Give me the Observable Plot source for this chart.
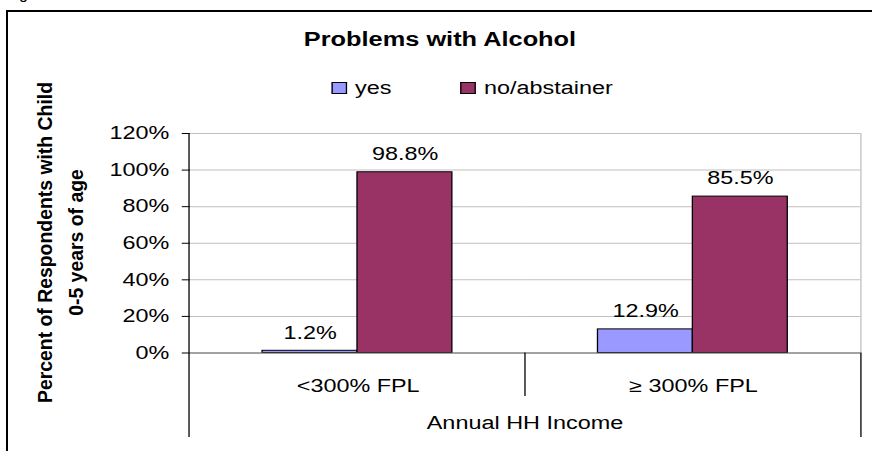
<!DOCTYPE html>
<html>
<head>
<meta charset="utf-8">
<script src="https://cdn.jsdelivr.net/npm/d3@7"></script>
<script src="https://cdn.jsdelivr.net/npm/@observablehq/plot@0.6"></script>
<style>
  body { margin: 0; background: #fff; font-family: "Liberation Sans", Arial, sans-serif; }
  #wrap { position: relative; width: 872px; height: 451px; overflow: hidden; background: #fff; }
  #frame { position: absolute; left: 6px; top: 10px; width: 900px; height: 500px; border: 2px solid #000; box-sizing: border-box; }
  #fig { position: absolute; left: 19px; top: -14px; font-size: 16px; line-height: 16px; color: #000; }
  #stretch { position: absolute; left: 0; top: 0; height: 451px; transform-origin: 0 0; }
  #title { position: absolute; width: 400px; text-align: center; font-weight: bold; font-size: 19.5px; line-height: 19.5px; color: #000; white-space: nowrap; }
  .sw { position: absolute; width: 12px; height: 12px; border: 1px solid #000; box-sizing: border-box; }
  .lt { position: absolute; font-size: 18px; line-height: 18px; color: #000; white-space: nowrap; }
  #xlabel { position: absolute; width: 400px; text-align: center; font-size: 18px; line-height: 18px; color: #000; white-space: nowrap; }
  #plot { position: absolute; left: 0; top: 0; }
  #ytitle { position: absolute; left: 0; top: 0; pointer-events: none; }
</style>
</head>
<body>
<div id="wrap">
  <div id="frame"></div>
  <div id="fig">g</div>
  <div id="stretch">
    <div id="plot"></div>
    <div id="title"></div>
    <div id="legend"></div>
    <div id="xlabel"></div>
  </div>
  <svg id="ytitle" width="872" height="451"></svg>
</div>
<script>
// ---- data ----
const chartTitle = "Problems with Alcohol";
const categories = ["<300% FPL", "\u2265 300% FPL"];
const series = ["yes", "no/abstainer"];
const yesValues = [1.2, 12.9];
const noValues = [98.8, 85.5];
const yTicks = [0, 20, 40, 60, 80, 100, 120];
const xTitle = "Annual HH Income";
const yTitleLines = ["Percent of Respondents with Child", "0-5 years of age"];

// ---- style ----
const seriesColors = ["#9999FF", "#993366"];
const S = 1.3;            // horizontal stretch of the original picture
const W = 872 / S;

const rows = categories.flatMap((c, i) => [
  {category: c, series: series[0], value: yesValues[i]},
  {category: c, series: series[1], value: noValues[i]}
]);

const chart = Plot.plot({
  width: W,
  height: 451,
  marginLeft: 145.4,
  marginRight: 8.5,
  marginTop: 133,
  marginBottom: 98.5,
  style: {fontFamily: "'Liberation Sans', Arial, sans-serif", fontSize: "18px", background: "transparent", color: "#000", overflow: "visible"},
  facet: {data: rows, x: "category"},
  fx: {domain: categories, padding: 0, axis: "bottom", tickSize: 0, tickPadding: 26, label: null},
  x: {domain: series, paddingInner: 0, paddingOuter: 0.75, axis: null},
  y: {domain: [0, 120], ticks: yTicks, tickFormat: d => d + "%", tickSize: 6.2, tickPadding: 10, label: null},
  color: {domain: series, range: seriesColors},
  marks: [
    Plot.ruleY(yTicks, {stroke: "#c0c0c0", strokeWidth: 1}),
    Plot.barY(rows, {x: "series", y: "value", fill: "series", stroke: "#000", strokeWidth: 1}),
    Plot.ruleY([0], {stroke: "#666", strokeWidth: 1}),
    Plot.text(rows, {x: "series", y: "value", text: d => d.value.toFixed(1) + "%", dy: -18, fontSize: 18, fill: "#000"})
  ]
});

const stretch = document.getElementById("stretch");
stretch.style.width = W + "px";
stretch.style.transform = `scaleX(${S})`;
document.getElementById("plot").appendChild(chart);

// category dividers, from the library's own scales
const svgEl = chart.tagName.toLowerCase() === "svg" ? chart : chart.querySelector("svg");
const fxS = chart.scale("fx"), yS = chart.scale("y");
const fxd = d3.scaleBand(fxS.domain, fxS.range)
  .paddingInner(fxS.paddingInner ?? 0).paddingOuter(fxS.paddingOuter ?? 0).align(fxS.align ?? 0.5);
const yd = d3.scaleLinear(yS.domain, yS.range);
const left = fxd(categories[0]);
const right = fxd(categories[categories.length - 1]) + fxd.bandwidth();
const y0 = yd(0), yTop = yd(yTicks[yTicks.length - 1]);
const g = d3.select(svgEl).append("g");
const seg = (x1, y1, x2, y2, c) => g.append("line").attr("x1", x1).attr("y1", y1).attr("x2", x2).attr("y2", y2).attr("stroke", c).attr("stroke-width", 1);
seg(right, yTop, right, y0, "#c0c0c0");
seg(left, yTop, left, y0 + 84.5, "#000");
seg(right, y0, right, y0 + 84.5, "#000");
categories.slice(1).forEach(c => seg(fxd(c), y0, fxd(c), y0 + 43.5, "#000"));

// title
const t = document.getElementById("title");
t.textContent = chartTitle;
t.style.left = (440 / S - 200) + "px";
t.style.top = "29.5px";

// legend
const colorScale = chart.scale("color");
const legend = document.getElementById("legend");
const swX = [254.6, 353.8];
series.forEach((s, i) => {
  const sw = document.createElement("div");
  sw.className = "sw";
  sw.style.left = swX[i] + "px";
  sw.style.top = "82px";
  sw.style.background = colorScale.range[colorScale.domain.indexOf(s)];
  legend.appendChild(sw);
  const lt = document.createElement("div");
  lt.className = "lt";
  lt.style.left = (swX[i] + 18.5) + "px";
  lt.style.top = "78.8px";
  lt.textContent = s;
  legend.appendChild(lt);
});

// x title
const xl = document.getElementById("xlabel");
xl.textContent = xTitle;
xl.style.left = ((left + right) / 2 - 200) + "px";
xl.style.top = "413.8px";

// y title (not stretched)
const ysvg = d3.select("#ytitle");
const baseX = [52, 83];
yTitleLines.forEach((line, i) => {
  ysvg.append("text")
    .attr("transform", `translate(${baseX[i]},242.5) rotate(-90)`)
    .attr("text-anchor", "middle")
    .attr("font-family", "'Liberation Sans', Arial, sans-serif")
    .attr("font-weight", "bold")
    .attr("font-size", 19.4)
    .attr("fill", "#000")
    .text(line);
});
</script>
</body>
</html>
